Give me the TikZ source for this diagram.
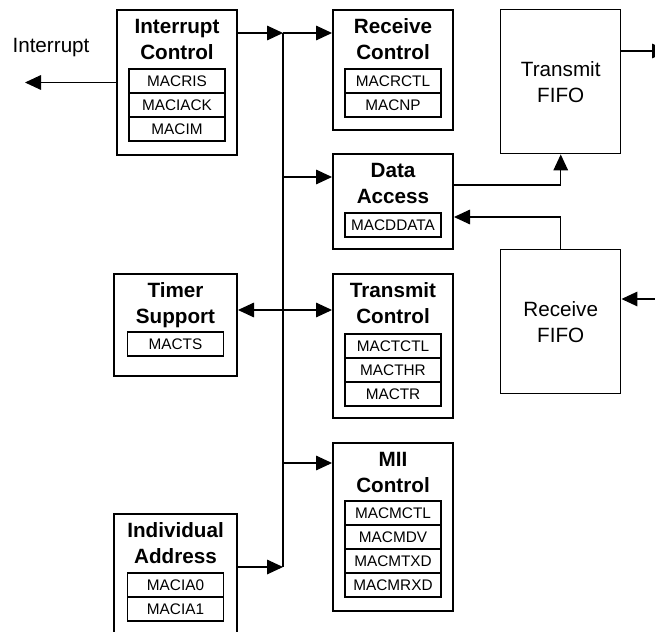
\documentclass[tikz,border=0pt]{standalone}
\usepackage{fontspec}
\setmainfont{Liberation Sans}
\usetikzlibrary{arrows.meta, positioning, calc}

\begin{document}
\begin{tikzpicture}[
    x=0.75pt, y=-0.75pt,
    >={Triangle[length=12pt, width=11pt]},
    block/.style={draw, line width=1.5pt, anchor=north west, minimum width=90pt, inner sep=0pt},
    fifo/.style={draw, line width=1.1pt, anchor=north west, minimum width=90pt, minimum height=108pt, align=center, font=\fontsize{15.5}{19.5}\selectfont},
    blocktitle/.style={align=center, inner sep=0pt, text depth=0pt, font=\fontsize{15.5}{19.5}\selectfont\bfseries},
    reg/.style={draw, line width=1pt, minimum width=72pt, minimum height=18pt, inner sep=0pt, outer sep=0pt, font=\fontsize{11.5}{13}\selectfont},
    link/.style={line width=0.8pt},
]
    \useasboundingbox (0,0) rectangle (655,631);

    % Register blocks
    \node[block, minimum height=108.75pt] (ic) at (116,9) {};
    \node[blocktitle] (ict) at ($(ic.north)+(0,30)$) {Interrupt\\Control};
    \node[reg, anchor=north] (macris) at ($(ic.north)+(0,60)$) {MACRIS};
    \node[reg, below=0pt of macris] (maciack) {MACIACK};
    \node[reg, below=0pt of maciack] (macim) {MACIM};

    \node[block, minimum height=90pt] (rc) at (332,9) {};
    \node[blocktitle] (rct) at ($(rc.north)+(0,30)$) {Receive\\Control};
    \node[reg, anchor=north] (macrctl) at ($(rc.north)+(0,60)$) {MACRCTL};
    \node[reg, below=0pt of macrctl] (macnp) {MACNP};

    \node[block, minimum height=71.25pt] (da) at (332,153) {};
    \node[blocktitle] (dat) at ($(da.north)+(0,30)$) {Data\\Access};
    \node[reg, anchor=north] (macddata) at ($(da.north)+(0,60)$) {MACDDATA};

    \node[block, minimum height=108pt] (tc) at (332,273) {};
    \node[blocktitle] (tct) at ($(tc.north)+(0,30)$) {Transmit\\Control};
    \node[reg, anchor=north] (mactctl) at ($(tc.north)+(0,61)$) {MACTCTL};
    \node[reg, below=0pt of mactctl] (macthr) {MACTHR};
    \node[reg, below=0pt of macthr] (mactr) {MACTR};

    \node[block, minimum height=126pt] (mii) at (332,442) {};
    \node[blocktitle] (miit) at ($(mii.north)+(0,30)$) {MII\\Control};
    \node[reg, anchor=north] (macmctl) at ($(mii.north)+(0,59)$) {MACMCTL};
    \node[reg, below=0pt of macmctl] (macmdv) {MACMDV};
    \node[reg, below=0pt of macmdv] (macmtxd) {MACMTXD};
    \node[reg, below=0pt of macmtxd] (macmrxd) {MACMRXD};

    \node[block, minimum width=92.25pt, minimum height=76.5pt] (ts) at (113,273) {};
    \node[blocktitle] (tst) at ($(ts.north)+(0,30)$) {Timer\\Support};
    \node[reg, anchor=north] (macts) at ($(ts.north)+(0,59)$) {MACTS};

    \node[block, minimum width=92.25pt, minimum height=110pt] (ia) at (113,513) {};
    \node[blocktitle] (iat) at ($(ia.north)+(0,30)$) {Individual\\Address};
    \node[reg, anchor=north] (macia0) at ($(ia.north)+(0,60)$) {MACIA0};
    \node[reg, below=0pt of macia0] (macia1) {MACIA1};

    % FIFOs
    \node[fifo] (tf) at (500,9) {Transmit\\FIFO};
    \node[fifo] (rf) at (500,249) {Receive\\FIFO};

    % Bus taps and free ends
    \coordinate (bustop) at (283,33);
    \coordinate (busda) at (283,177);
    \coordinate (bustimer) at (283,310);
    \coordinate (busmii) at (283,463);
    \coordinate (busbot) at (283,567);
    \coordinate (intout) at (25,81);
    \coordinate (txout) at (668,51);
    \coordinate (rxin) at (662,299);

    \node[inner sep=0pt, font=\fontsize{15.5}{19.5}\selectfont] (intlabel) at (51,48) {Interrupt};

    % Connectors
    \draw[link] (bustop) -- (busbot);
    \draw[link, ->] (ic.east |- bustop) -- (bustop);
    \draw[link, ->] (bustop) -- (rc.west |- bustop);
    \draw[link, ->] (busda) -- (da.west |- busda);
    \draw[link, <->] (ts.east |- bustimer) -- (tc.west |- bustimer);
    \draw[link, ->] (busmii) -- (mii.west |- busmii);
    \draw[link, ->] (ia.east |- busbot) -- (busbot);
    \draw[link, ->] (ic.west) -- (intout |- ic.west);
    \draw[link, ->] ($(da.north east)+(0,32)$) -| (tf.south);
    \draw[link, ->] (rf.north) |- ($(da.north east)+(0,64)$);
    \draw[link, ->] ($(tf.north east)+(0,42)$) -- (txout);
    \draw[link, ->] (rxin) -- ($(rf.north east)+(0,50)$);
\end{tikzpicture}
\end{document}
